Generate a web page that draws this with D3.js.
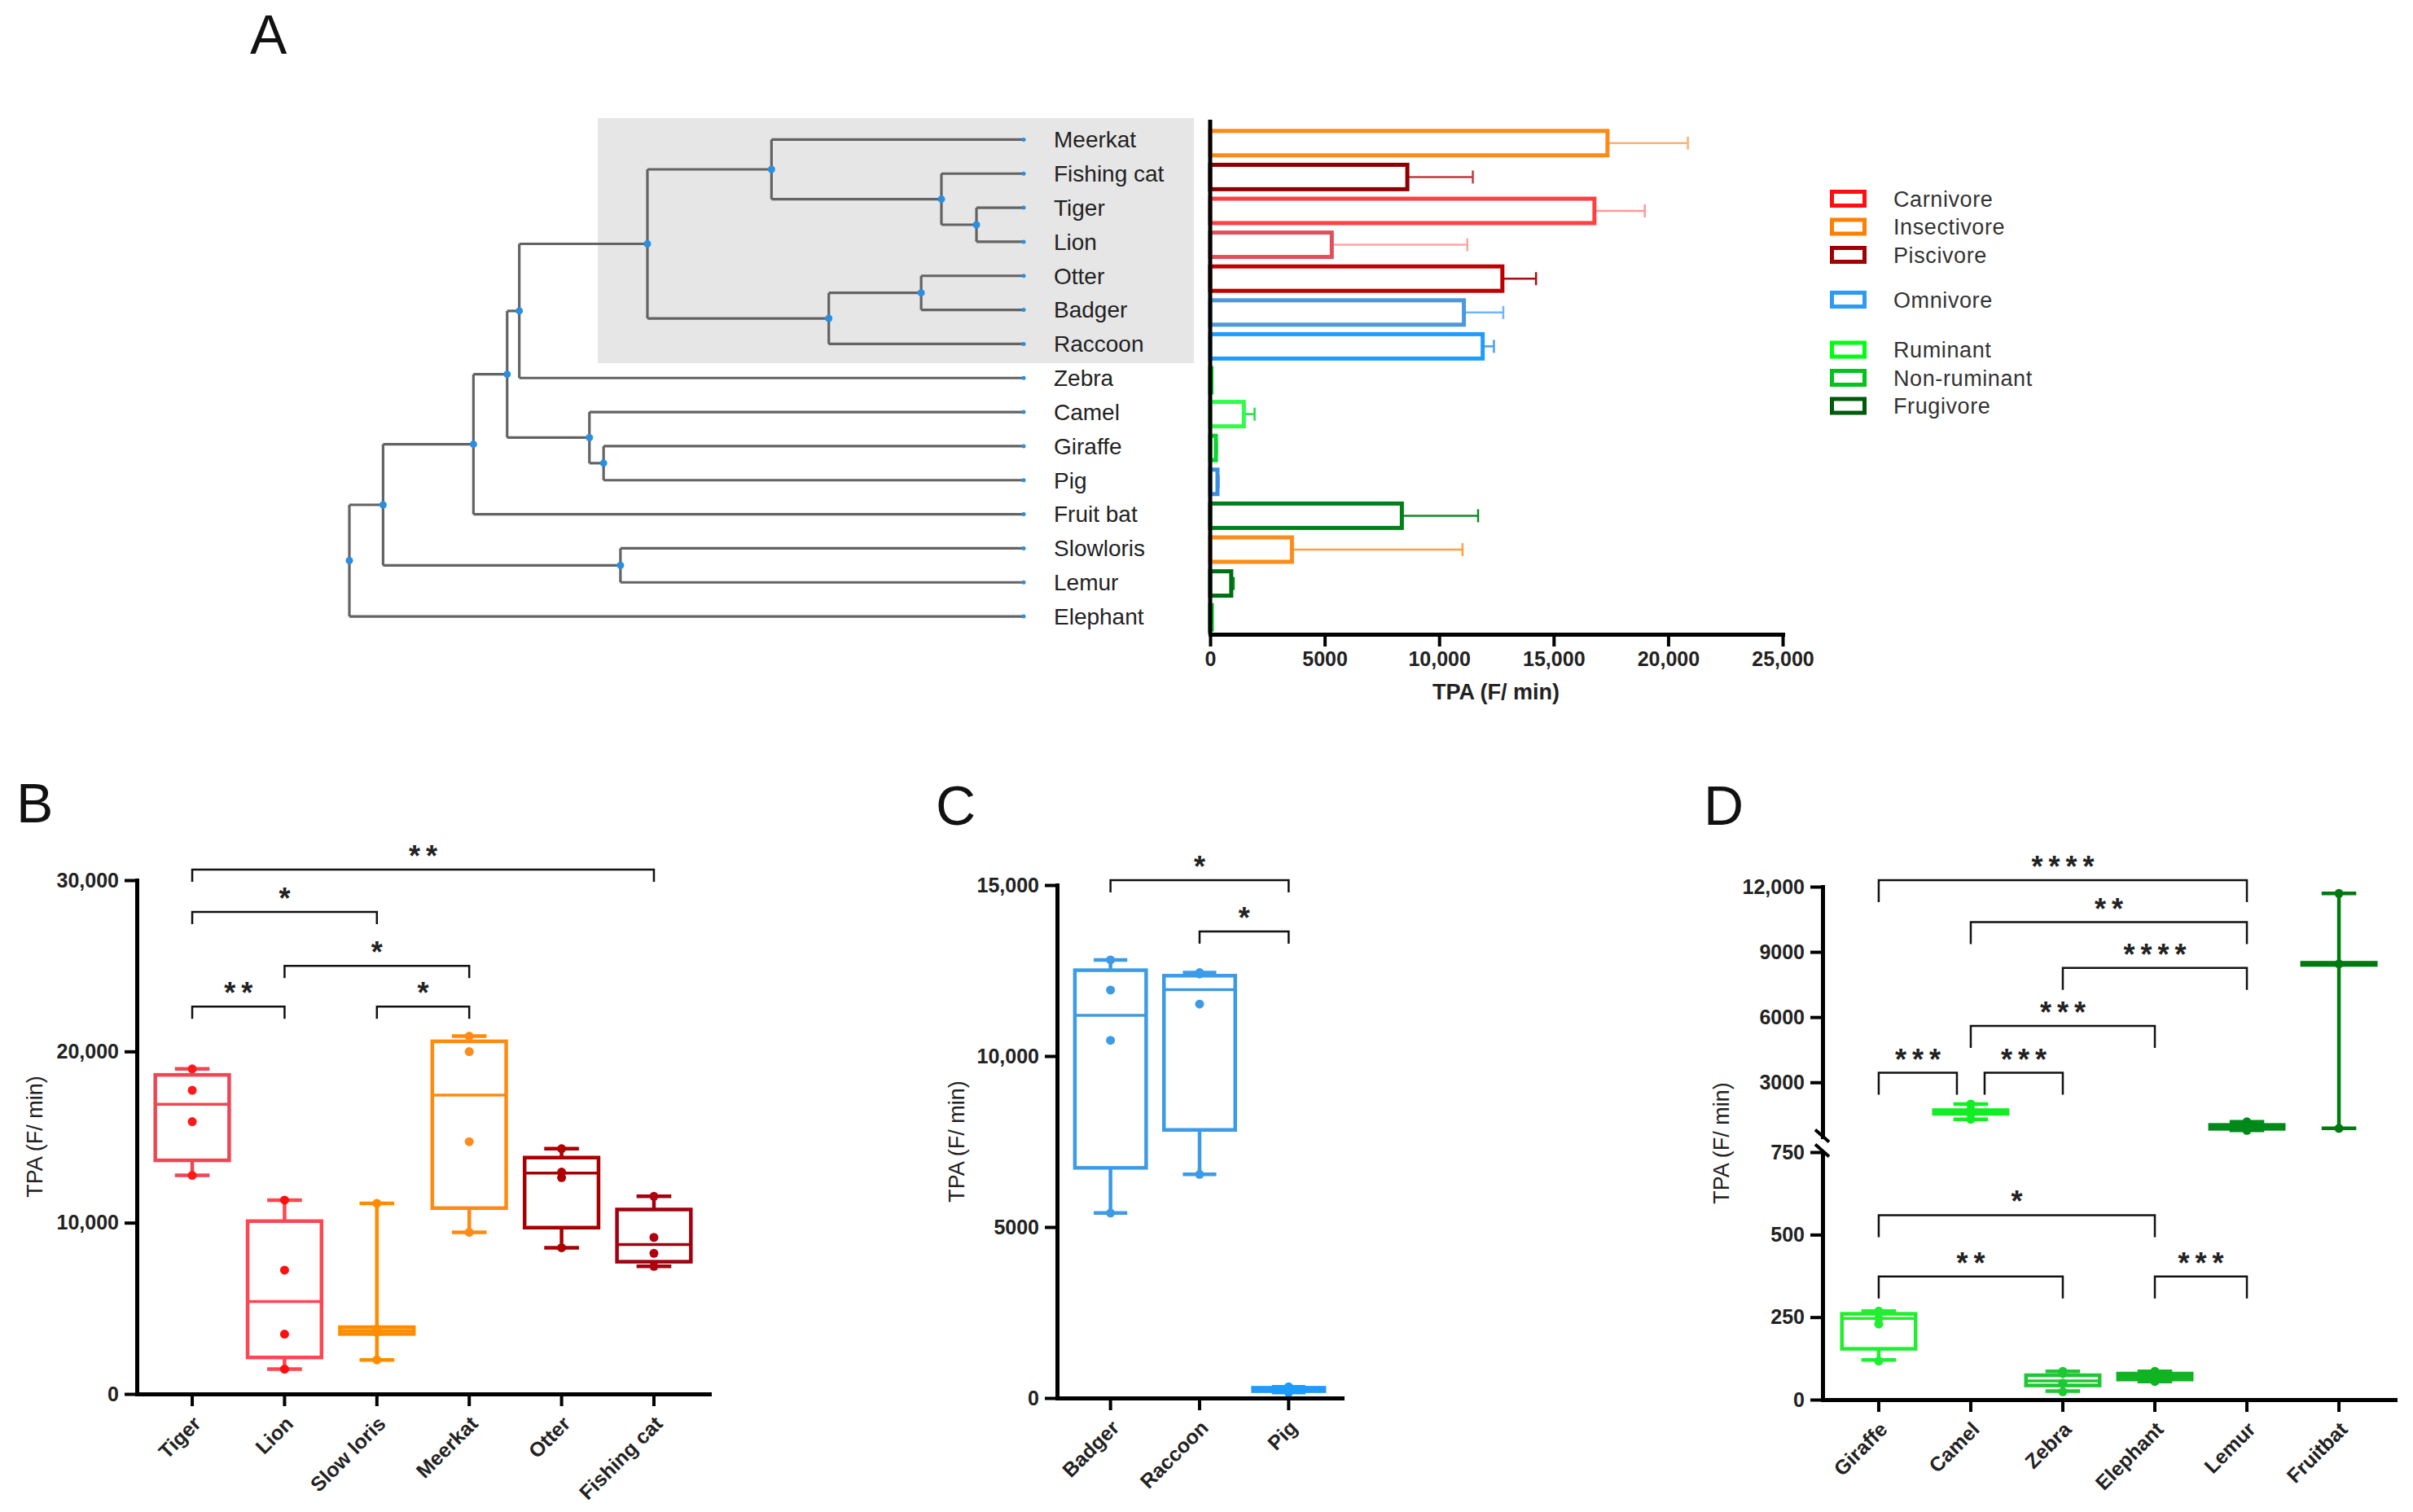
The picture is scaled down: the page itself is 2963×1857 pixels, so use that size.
<!DOCTYPE html>
<html lang="en">
<head>
<meta charset="UTF-8">
<title>TPA across mammals</title>
<script src="https://d3js.org/d3.v7.min.js"></script>
<style>
  body { margin: 0; background: #fff; }
  svg { font-family: "Liberation Sans", Arial, sans-serif; }
</style>
</head>
<body>
<div id="chart"></div>
<script>
// ---------- data ----------
// Panel A: leaves top to bottom, mean TPA and SD
const species = ["Meerkat", "Fishing cat", "Tiger", "Lion", "Otter", "Badger", "Raccoon", "Zebra",
  "Camel", "Giraffe", "Pig", "Fruit bat", "Slowloris", "Lemur", "Elephant"];
const meanTPA = [17350, 8610, 16780, 5310, 12760, 11080, 11900, 55, 1470, 250, 320, 8370, 3570, 920, 70];
const sdTPA = [3510, 2860, 2200, 5920, 1470, 1720, 490, 20, 470, 40, 50, 3330, 7450, 110, 15];
const xTicksA = [0, 5000, 10000, 15000, 20000, 25000];

// tree, node ages on a relative scale (root = 100)
const tree = {age: 100, children: [
  {age: 95, children: [
    {age: 81.6, children: [
      {age: 76.6, children: [
        {age: 74.8, children: [
          {age: 55.8, children: [
            {age: 37.4, children: [{name: "Meerkat"},
              {age: 12.2, children: [{name: "Fishing cat"}, {age: 7, children: [{name: "Tiger"}, {name: "Lion"}]}]}]},
            {age: 28.9, children: [{age: 15.2, children: [{name: "Otter"}, {name: "Badger"}]}, {name: "Raccoon"}]}
          ]},
          {name: "Zebra"}
        ]},
        {age: 64.4, children: [{name: "Camel"}, {age: 62.3, children: [{name: "Giraffe"}, {name: "Pig"}]}]}
      ]},
      {name: "Fruit bat"}
    ]},
    {age: 59.8, children: [{name: "Slowloris"}, {name: "Lemur"}]}
  ]},
  {name: "Elephant"}
]};

const dietGroups = ["Carnivore", "Insectivore", "Piscivore", "Omnivore", "Ruminant", "Non-ruminant", "Frugivore"];
const dietBlock = [0, 0, 0, 1, 2, 2, 2];

// Panel B
const bCats = ["Tiger", "Lion", "Slow loris", "Meerkat", "Otter", "Fishing cat"];
const bMin = [12760, 1450, 1990, 9440, 8540, 7450];
const bQ1 = [13640, 2130, 3500, 10850, 9710, 7720];
const bMed = [16910, 5400, 3700, 17450, 12900, 8730];
const bQ3 = [18630, 10090, 3900, 20590, 13800, 10770];
const bMax = [18980, 11320, 11130, 20890, 14320, 11540];
const bPoints = [[18980, 17730, 15900, 12760], [11320, 7230, 3490, 1450], [11130, 3800, 3600, 1990],
  [20890, 19990, 14730, 9440], [14320, 12950, 12630, 8540], [11540, 9140, 8210, 7450]];
const bTicks = [0, 10000, 20000, 30000];
const bSig = [["Tiger", "Fishing cat", 30620, "**"], ["Tiger", "Slow loris", 28140, "*"],
  ["Lion", "Meerkat", 25000, "*"], ["Tiger", "Lion", 22620, "**"], ["Slow loris", "Meerkat", 22620, "*"]];

// Panel C
const cCats = ["Badger", "Raccoon", "Pig"];
const cMin = [5410, 6540, 160];
const cQ1 = [6730, 7840, 200];
const cMed = [11190, 11940, 260];
const cQ3 = [12510, 12350, 300];
const cMax = [12810, 12440, 330];
const cPoints = [[12810, 11930, 10460, 5410], [12440, 12400, 11520, 6540], [330, 280, 240, 160]];
const cTicks = [0, 5000, 10000, 15000];
const cSig = [["Badger", "Pig", 15140, "*"], ["Raccoon", "Pig", 13640, "*"]];

// Panel D
const dCats = ["Giraffe", "Camel", "Zebra", "Elephant", "Lemur", "Fruitbat"];
const dMin = [120, 1300, 26, 55, 790, 880];
const dQ1 = [154, 1550, 43, 61, 860, 8400];
const dMed = [246, 1622, 57, 70, 944, 8450];
const dQ3 = [260, 1720, 74, 79, 1040, 8500];
const dMax = [268, 2000, 86, 86, 1180, 11690];
const dPoints = [[268, 246, 229, 117], [2000, 1750, 1550, 1300], [86, 79, 50, 24], [86, 80, 72, 55],
  [1180, 990, 880, 790], [11690, 8450, 880]];
const dTicksLow = [0, 250, 500, 750];
const dTicksHigh = [3000, 6000, 9000, 12000];
const dSig = [["Giraffe", "Lemur", 12300, "****"], ["Camel", "Lemur", 10370, "**"], ["Zebra", "Lemur", 8260, "****"],
  ["Camel", "Elephant", 5590, "***"], ["Giraffe", "Camel", 3440, "***"], ["Camel", "Zebra", 3440, "***"],
  ["Giraffe", "Elephant", 559, "*"], ["Giraffe", "Zebra", 373, "**"], ["Elephant", "Lemur", 373, "***"]];

// ---------- colours ----------
const barColor = {"Meerkat": "#ff8a14", "Fishing cat": "#8c0000", "Tiger": "#ff4040", "Lion": "#e0505a",
  "Otter": "#c00000", "Badger": "#4d97dc", "Raccoon": "#1f9cff", "Zebra": "#00cc22", "Camel": "#2bff4a",
  "Giraffe": "#00d82a", "Pig": "#3a8fe0", "Fruit bat": "#00801a", "Slowloris": "#ff8c1a", "Lemur": "#006e12",
  "Elephant": "#00c020"};
const errColor = {"Meerkat": "#ffb26b", "Fishing cat": "#c0393f", "Tiger": "#ff9a9a", "Lion": "#ffa5a5",
  "Otter": "#a80f0f", "Badger": "#6fb5ff", "Raccoon": "#4a9fe8", "Zebra": "#00cc22", "Camel": "#22dd44",
  "Giraffe": "#00d82a", "Pig": "#3a8fe0", "Fruit bat": "#108a25", "Slowloris": "#ffa040", "Lemur": "#138a25",
  "Elephant": "#00c020"};
const dietColor = ["#ff1010", "#ff8000", "#a00000", "#2d9cf0", "#00ff10", "#00c41a", "#005a0a"];
const bColor = ["#ee4654", "#ff4652", "#ff8c00", "#ff8a10", "#a80000", "#a00010"];
const bDot = ["#ff1a1a", "#ff1010", "#ff8c00", "#ff8c1a", "#b00000", "#b00010"];
const cColor = ["#3d9be6", "#3d9be6", "#1e9bff"];
const dColor = ["#20ee30", "#11ee22", "#1ec832", "#10b422", "#008a1a", "#007a10"];

const fmt = v => v >= 10000 ? d3.format(",")(v) : String(v);

const svg = d3.select("#chart").append("svg")
  .attr("width", 2963).attr("height", 1857);

function styleAxis(g, fs) {
  g.attr("font-family", null).attr("font-size", null);
  g.select(".domain").attr("stroke", "#000").attr("stroke-width", 5).attr("stroke-linecap", "square");
  g.selectAll(".tick line").attr("stroke", "#000").attr("stroke-width", 4);
  g.selectAll(".tick text").attr("font-size", fs).attr("font-weight", "bold").attr("fill", "#222");
}

function panelLabel(t, x, y) {
  svg.append("text").attr("x", x).attr("y", y).attr("font-size", 68).attr("fill", "#111").text(t);
}

// ---------- Panel A ----------
panelLabel("A", 307, 66);

svg.append("rect").attr("x", 734).attr("y", 145).attr("width", 732).attr("height", 301).attr("fill", "#e6e6e6");

const xAge = d3.scaleLinear().domain([0, 100]).range([1257, 429]);
const yLeaf = d3.scalePoint().domain(species).range([171.4, 757.1]);
const root = d3.hierarchy(tree);
root.eachAfter(d => {
  d.py = d.children ? d3.mean(d.children, c => c.py) : yLeaf(d.data.name);
  d.px = xAge(d.data.age || 0);
});

const treeG = svg.append("g").attr("stroke", "#636363").attr("stroke-width", 3.2).attr("fill", "none");
root.descendants().filter(d => d.children).forEach(d => {
  const ys = d.children.map(c => c.py);
  treeG.append("line").attr("x1", d.px).attr("x2", d.px).attr("y1", d3.min(ys)).attr("y2", d3.max(ys));
  d.children.forEach(c => {
    treeG.append("line").attr("x1", d.px).attr("x2", c.px).attr("y1", c.py).attr("y2", c.py);
  });
});
svg.append("g").selectAll("circle").data(root.descendants()).join("circle")
  .attr("cx", d => d.px).attr("cy", d => d.py).attr("r", d => d.children ? 4.5 : 2.5)
  .attr("fill", "#2a8fe0");
svg.append("g").selectAll("text").data(root.leaves()).join("text")
  .attr("x", 1294).attr("y", d => d.py).attr("dy", "0.35em")
  .attr("font-size", 28).attr("fill", "#222").text(d => d.data.name);

const xTPA = d3.scaleLinear().domain([0, 25000]).range([1486, 2189]);
const yBar = d3.scaleBand().domain(species).range([155, 779]).paddingInner(0.28).paddingOuter(0.14);
const barData = species.map((s, i) => ({s, m: meanTPA[i], e: sdTPA[i]}));

const barG = svg.append("g");
barG.selectAll("line.err").data(barData).join("line").attr("class", "err")
  .attr("x1", d => xTPA(d.m)).attr("x2", d => xTPA(d.m + d.e))
  .attr("y1", d => yBar(d.s) + yBar.bandwidth() / 2).attr("y2", d => yBar(d.s) + yBar.bandwidth() / 2)
  .attr("stroke", d => errColor[d.s]).attr("stroke-width", 2.5);
barG.selectAll("line.cap").data(barData).join("line").attr("class", "cap")
  .attr("x1", d => xTPA(d.m + d.e)).attr("x2", d => xTPA(d.m + d.e))
  .attr("y1", d => yBar(d.s) + yBar.bandwidth() / 2 - 8).attr("y2", d => yBar(d.s) + yBar.bandwidth() / 2 + 8)
  .attr("stroke", d => errColor[d.s]).attr("stroke-width", 2.5);
barG.selectAll("rect").data(barData).join("rect")
  .attr("x", xTPA(0)).attr("y", d => yBar(d.s))
  .attr("width", d => xTPA(d.m) - xTPA(0)).attr("height", yBar.bandwidth())
  .attr("fill", "#fff").attr("stroke", d => barColor[d.s]).attr("stroke-width", 5);

const axA = svg.append("g").attr("transform", "translate(0,779)")
  .call(d3.axisBottom(xTPA).tickValues(xTicksA).tickFormat(fmt).tickSize(15).tickPadding(6).tickSizeOuter(0));
styleAxis(axA, 25);
svg.append("line").attr("x1", 1486).attr("x2", 1486).attr("y1", 147).attr("y2", 779)
  .attr("stroke", "#000").attr("stroke-width", 5);
svg.append("text").attr("x", 1837).attr("y", 859).attr("text-anchor", "middle")
  .attr("font-size", 27).attr("font-weight", "bold").attr("fill", "#222").text("TPA (F/ min)");

// legend
const legY = (d, i) => 244 + i * 34.5 + [0, 20.5, 47.5][dietBlock[i]];
const leg = svg.append("g").selectAll("g").data(dietGroups).join("g")
  .attr("transform", (d, i) => `translate(2247,${legY(d, i)})`);
leg.append("rect").attr("x", 2.5).attr("y", -8.5).attr("width", 40).attr("height", 17)
  .attr("fill", "#fff").attr("stroke", (d, i) => dietColor[i]).attr("stroke-width", 5);
leg.append("text").attr("x", 78).attr("dy", "0.36em").attr("font-size", 27).attr("letter-spacing", 0.6)
  .attr("fill", "#333").text(d => d);

// ---------- box plot helper ----------
function boxPanel(o) {
  const g = svg.append("g");
  const bw = o.x.bandwidth() * 0.8, capW = bw * 0.47;
  const rows = o.cats.map((c, i) => ({c, i, min: o.min[i], q1: o.q1[i], med: o.med[i], q3: o.q3[i], max: o.max[i]}));
  const cx = d => o.x(d.c) + o.x.bandwidth() / 2;
  const box = g.selectAll("g").data(rows).join("g")
    .attr("stroke", d => o.color[d.i]).attr("stroke-width", 4.5).attr("fill", "none");
  box.append("line").attr("x1", cx).attr("x2", cx).attr("y1", d => o.y(d.q3)).attr("y2", d => o.y(d.max));
  box.append("line").attr("x1", cx).attr("x2", cx).attr("y1", d => o.y(d.q1)).attr("y2", d => o.y(d.min));
  box.append("line").attr("x1", d => cx(d) - capW / 2).attr("x2", d => cx(d) + capW / 2)
    .attr("y1", d => o.y(d.max)).attr("y2", d => o.y(d.max));
  box.append("line").attr("x1", d => cx(d) - capW / 2).attr("x2", d => cx(d) + capW / 2)
    .attr("y1", d => o.y(d.min)).attr("y2", d => o.y(d.min));
  box.append("rect").attr("x", d => cx(d) - bw / 2).attr("width", bw)
    .attr("y", d => o.y(d.q3)).attr("height", d => o.y(d.q1) - o.y(d.q3));
  box.append("line").attr("x1", d => cx(d) - bw / 2).attr("x2", d => cx(d) + bw / 2)
    .attr("y1", d => o.y(d.med)).attr("y2", d => o.y(d.med)).attr("stroke-width", 3.5);
  rows.forEach(r => {
    g.append("g").selectAll("circle").data(o.points[r.i]).join("circle")
      .attr("cx", cx(r)).attr("cy", v => o.y(v)).attr("r", 5.5).attr("fill", o.dot[r.i]);
  });

  // significance brackets
  const sg = svg.append("g");
  o.sig.forEach(s => {
    let x1 = cx({c: s[0]}), x2 = cx({c: s[1]});
    // neighbours sharing an end on the same level are pulled apart
    o.sig.forEach(t => {
      if (t === s || t[2] !== s[2]) return;
      if (t[0] === s[1]) x2 -= 17;
      if (t[1] === s[0]) x1 += 17;
    });
    const yb = o.y(s[2]);
    sg.append("path").attr("d", `M${x1},${yb + o.leg}V${yb}H${x2}V${yb + o.leg}`)
      .attr("fill", "none").attr("stroke", "#111").attr("stroke-width", 2.5);
    sg.append("text").attr("x", (x1 + x2) / 2 + 3.5).attr("y", yb - 4).attr("text-anchor", "middle")
      .attr("font-size", 36).attr("font-weight", "bold").attr("letter-spacing", 7).attr("fill", "#222")
      .text(s[3]);
  });

  // x axis with slanted labels
  const ax = svg.append("g").attr("transform", `translate(0,${o.axisY})`)
    .call(d3.axisBottom(o.x).tickSize(15).tickSizeOuter(0));
  styleAxis(ax, 25);
  ax.selectAll(".tick text").attr("x", 0).attr("y", 0).attr("dy", "0.35em")
    .attr("text-anchor", "end").attr("transform", "translate(6,32) rotate(-45)");

  svg.append("text").attr("transform", `translate(${o.titleX},${o.titleY}) rotate(-90)`)
    .attr("text-anchor", "middle").attr("dy", "0.35em").attr("font-size", 27).attr("fill", "#222")
    .text("TPA (F/ min)");
}

// ---------- Panel B ----------
panelLabel("B", 20, 1010);
const xB = d3.scaleBand().domain(bCats).range([168, 871]).paddingInner(0).paddingOuter(0.1);
const yB = d3.scaleLinear().domain([0, 30000]).range([1712, 1081]);
const ayB = svg.append("g").attr("transform", "translate(168,0)")
  .call(d3.axisLeft(yB).tickValues(bTicks).tickFormat(fmt).tickSize(15).tickPadding(7).tickSizeOuter(0));
styleAxis(ayB, 25);
boxPanel({cats: bCats, min: bMin, q1: bQ1, med: bMed, q3: bQ3, max: bMax, points: bPoints,
  x: xB, y: yB, color: bColor, dot: bDot, sig: bSig, leg: 15, axisY: 1712, titleX: 43, titleY: 1396});

// ---------- Panel C ----------
panelLabel("C", 1149, 1013);
const xC = d3.scaleBand().domain(cCats).range([1298, 1648]).paddingInner(0).paddingOuter(0.1);
const yC = d3.scaleLinear().domain([0, 15000]).range([1717, 1087]);
const ayC = svg.append("g").attr("transform", "translate(1298,0)")
  .call(d3.axisLeft(yC).tickValues(cTicks).tickFormat(fmt).tickSize(15).tickPadding(7).tickSizeOuter(0));
styleAxis(ayC, 25);
boxPanel({cats: cCats, min: cMin, q1: cQ1, med: cMed, q3: cQ3, max: cMax, points: cPoints,
  x: xC, y: yC, color: cColor, dot: cColor, sig: cSig, leg: 15, axisY: 1717, titleX: 1175, titleY: 1402});

// ---------- Panel D (broken axis) ----------
panelLabel("D", 2092, 1013);
const xD = d3.scaleBand().domain(dCats).range([2238, 2941]).paddingInner(0).paddingOuter(0.11);
const yDlow = d3.scaleLinear().domain([0, 750]).range([1719, 1415]);
const yDhigh = d3.scaleLinear().domain([500, 12000]).range([1396, 1089]);
const yD = v => v > 760 ? yDhigh(v) : yDlow(v);
const ayD1 = svg.append("g").attr("transform", "translate(2238,0)")
  .call(d3.axisLeft(yDlow).tickValues(dTicksLow).tickFormat(fmt).tickSize(15).tickPadding(7).tickSizeOuter(0));
styleAxis(ayD1, 25);
const ayD2 = svg.append("g").attr("transform", "translate(2238,0)")
  .call(d3.axisLeft(yDhigh).tickValues(dTicksHigh).tickFormat(fmt).tickSize(15).tickPadding(7).tickSizeOuter(0));
styleAxis(ayD2, 25);
[1395, 1413].forEach(yy => {
  svg.append("line").attr("x1", 2229).attr("x2", 2246).attr("y1", yy - 7.5).attr("y2", yy + 7.5)
    .attr("stroke", "#000").attr("stroke-width", 4);
});
boxPanel({cats: dCats, min: dMin, q1: dQ1, med: dMed, q3: dQ3, max: dMax, points: dPoints,
  x: xD, y: yD, color: dColor, dot: dColor, sig: dSig, leg: 27, axisY: 1719, titleX: 2114, titleY: 1404});
</script>
</body>
</html>
